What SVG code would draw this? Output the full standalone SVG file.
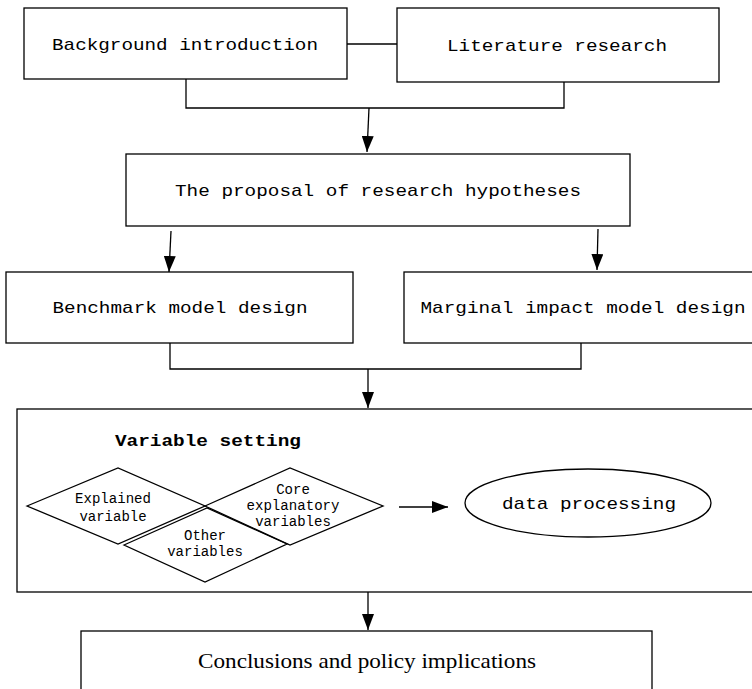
<svg xmlns="http://www.w3.org/2000/svg" width="752" height="689" viewBox="0 0 752 689">
<defs>
<marker id="arrB" viewBox="0 0 16 12" refX="16" refY="6" markerWidth="16" markerHeight="12" markerUnits="userSpaceOnUse" orient="auto">
<path d="M0,0 L16,6 L0,12 z" fill="#000"/>
</marker>
</defs>
<style>
.box{fill:#fff;stroke:#000;stroke-width:1.3}
.frame{fill:none;stroke:#000;stroke-width:1.3}
.ln{fill:none;stroke:#000;stroke-width:1.3}
.t{font-family:"Liberation Mono",monospace;font-size:17px;fill:#000;text-anchor:middle}
.s{font-family:"Liberation Mono",monospace;font-size:14px;fill:#000;text-anchor:middle}
.b{font-weight:bold}
.serif{font-family:"Liberation Serif",serif;font-size:21px;fill:#000;text-anchor:middle}
</style>
<rect width="752" height="689" fill="#fff"/>
<g id="variable-setting">
<rect class="frame" x="17" y="409" width="750" height="183"/>
<text class="t b" x="208" y="446" textLength="186" lengthAdjust="spacingAndGlyphs">Variable setting</text>
</g>
<g id="connectors">
<line class="ln" x1="347" y1="44" x2="397" y2="44"/>
<polyline class="ln" points="186,79 186,108 564,108 564,82"/>
<line class="ln" x1="369" y1="108" x2="367" y2="152" marker-end="url(#arrB)"/>
<line class="ln" x1="171" y1="231" x2="169" y2="272" marker-end="url(#arrB)"/>
<line class="ln" x1="598" y1="229" x2="597" y2="270" marker-end="url(#arrB)"/>
<polyline class="ln" points="170,343 170,369 581,369 581,343"/>
<line class="ln" x1="368" y1="369" x2="368" y2="408" marker-end="url(#arrB)"/>
<line class="ln" x1="399" y1="507" x2="448" y2="507" marker-end="url(#arrB)"/>
<line class="ln" x1="368" y1="592" x2="368" y2="630" marker-end="url(#arrB)"/>
</g>
<g id="background">
<rect class="box" x="24" y="8" width="323" height="71"/>
<text class="t" x="185" y="50" textLength="266" lengthAdjust="spacingAndGlyphs">Background introduction</text>
</g>
<g id="literature">
<rect class="box" x="397" y="8" width="322" height="74"/>
<text class="t" x="557" y="51" textLength="220" lengthAdjust="spacingAndGlyphs">Literature research</text>
</g>
<g id="hypotheses">
<rect class="box" x="126" y="154" width="504" height="72"/>
<text class="t" x="378" y="196" textLength="406" lengthAdjust="spacingAndGlyphs">The proposal of research hypotheses</text>
</g>
<g id="benchmark">
<rect class="box" x="6" y="272" width="347" height="71"/>
<text class="t" x="180" y="313" textLength="255" lengthAdjust="spacingAndGlyphs">Benchmark model design</text>
</g>
<g id="marginal">
<rect class="box" x="404" y="272" width="360" height="71"/>
<text class="t" x="583" y="313" textLength="325" lengthAdjust="spacingAndGlyphs">Marginal impact model design</text>
</g>
<g id="explained">
<polygon class="ln" points="27,506 118,468 205,506 118,544"/>
<text class="s" x="113" y="503" textLength="76" lengthAdjust="spacingAndGlyphs">Explained</text>
<text class="s" x="113" y="521">variable</text>
</g>
<g id="core">
<polygon class="ln" points="205,506 290,468 383,506 290,545"/>
<text class="s" x="293" y="494">Core</text>
<text class="s" x="293" y="510" textLength="93" lengthAdjust="spacingAndGlyphs">explanatory</text>
<text class="s" x="293" y="526">variables</text>
</g>
<g id="other">
<polygon class="ln" points="124,545 207,508 287,544 205,582"/>
<text class="s" x="205" y="540">Other</text>
<text class="s" x="205" y="556">variables</text>
</g>
<g id="data-processing">
<ellipse class="ln" cx="588" cy="503" rx="123" ry="34"/>
<text class="t" x="589" y="509" textLength="174" lengthAdjust="spacingAndGlyphs">data processing</text>
</g>
<g id="conclusions">
<rect class="box" x="81" y="631" width="571" height="62"/>
<text class="serif" x="367" y="668" textLength="338" lengthAdjust="spacingAndGlyphs">Conclusions and policy implications</text>
</g>
</svg>
